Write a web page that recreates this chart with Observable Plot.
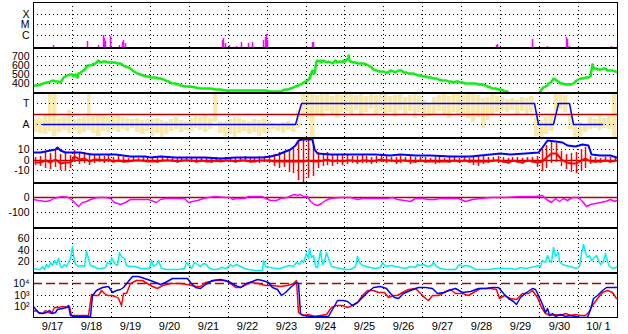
<!DOCTYPE html>
<html><head><meta charset="utf-8">
<script src="https://cdn.jsdelivr.net/npm/d3@7"></script>
<script src="https://cdn.jsdelivr.net/npm/@observablehq/plot@0.6"></script>
<style>body{margin:0;background:#fff} #chart svg{display:block}</style>
</head><body><div id="chart"></div><script>
// x values: days since 9/17 00:00
const tickLabels = ["9/17","9/18","9/19","9/20","9/21","9/22","9/23","9/24","9/25","9/26","9/27","9/28","9/29","9/30","10/ 1"];

// Panel 1: flare class (C=1, M=2, X=3)
const flareLevels = ["C","M","X"];
const flares = [[0.51,0.05],[1.39,0.43],[1.67,0.05],[1.79,1.0],[1.82,0.7],[1.86,0.4],[1.98,0.9],[2.21,0.05],[2.29,0.35],[2.32,0.5],[2.36,0.25],[4.85,0.5],[4.87,0.7],[4.93,0.2],[5.03,0.05],[5.21,0.0],[5.34,0.35],[5.52,0.25],[5.63,0.35],[5.91,0.5],[5.96,0.8],[5.99,1.1],[6.01,0.55],[7.17,0.35],[7.19,0.35],[11.89,0.05],[11.92,0.1],[12.82,0.6],[13.20,0.0],[13.69,0.8],[13.71,0.6],[13.77,0.0],[14.85,0.0]];

// Panel 2: speed
const speed = [[0,378],[0.1,382],[0.18,388],[0.25,395],[0.31,407],[0.38,415],[0.44,422],[0.5,430],[0.57,426],[0.63,420],[0.69,415],[0.74,440],[0.77,463],[0.82,478],[0.87,489],[0.93,495],[1.0,500],[1.04,480],[1.08,505],[1.12,470],[1.16,507],[1.22,520],[1.28,544],[1.33,570],[1.39,600],[1.46,605],[1.52,611],[1.58,625],[1.64,640],[1.68,655],[1.72,632],[1.80,644],[1.86,650],[1.92,635],[1.98,637],[2.05,628],[2.11,630],[2.17,620],[2.23,618],[2.30,605],[2.36,592],[2.43,578],[2.49,563],[2.55,545],[2.62,526],[2.68,512],[2.75,500],[2.82,490],[2.88,481],[2.95,475],[3.01,470],[3.07,466],[3.13,463],[3.2,458],[3.26,452],[3.33,442],[3.39,433],[3.46,424],[3.52,415],[3.58,405],[3.65,396],[3.72,386],[3.78,378],[3.9,372],[4.03,367],[4.16,356],[4.29,348],[4.42,345],[4.55,341],[4.68,335],[4.80,330],[4.93,326],[5.06,322],[5.19,322],[5.32,322],[5.45,320],[5.57,319],[5.70,319],[5.83,319],[5.96,317],[6.09,315],[6.22,315],[6.34,315],[6.40,322],[6.47,330],[6.53,338],[6.60,348],[6.67,358],[6.73,367],[6.80,378],[6.86,389],[6.90,400],[6.94,415],[7.0,425],[7.04,433],[7.08,460],[7.12,489],[7.15,520],[7.17,544],[7.2,510],[7.22,507],[7.25,580],[7.27,644],[7.3,660],[7.34,640],[7.37,655],[7.41,635],[7.45,660],[7.5,648],[7.54,630],[7.58,650],[7.63,637],[7.67,625],[7.72,648],[7.76,655],[7.8,630],[7.85,650],[7.89,644],[7.93,630],[7.96,655],[8.01,640],[8.05,665],[8.09,674],[8.1,711],[8.12,660],[8.15,640],[8.22,637],[8.28,632],[8.35,626],[8.42,622],[8.48,618],[8.55,610],[8.61,600],[8.67,575],[8.73,555],[8.8,545],[8.86,537],[8.92,535],[8.99,533],[9.05,520],[9.12,526],[9.18,540],[9.25,537],[9.3,520],[9.38,544],[9.44,540],[9.50,526],[9.57,520],[9.63,515],[9.70,510],[9.76,507],[9.82,500],[9.89,493],[9.95,486],[10.02,478],[10.08,475],[10.15,470],[10.21,465],[10.27,459],[10.34,452],[10.40,444],[10.47,438],[10.53,433],[10.6,428],[10.66,422],[10.72,418],[10.79,415],[10.86,422],[10.92,420],[10.97,415],[11.03,410],[11.10,404],[11.16,400],[11.22,396],[11.29,398],[11.35,396],[11.42,392],[11.48,389],[11.54,384],[11.61,378],[11.67,365],[11.74,352],[11.8,346],[11.87,341],[11.94,335],[12.0,330],[12.06,322],[12.12,315],[12.18,312],[12.6,NaN],[13.02,315],[13.06,335],[13.10,352],[13.15,365],[13.20,378],[13.24,398],[13.28,415],[13.32,435],[13.36,452],[13.40,445],[13.43,433],[13.48,418],[13.54,404],[13.6,395],[13.67,385],[13.73,388],[13.79,385],[13.83,390],[13.87,396],[13.91,420],[13.95,433],[14.0,445],[14.05,452],[14.12,460],[14.18,463],[14.25,470],[14.31,478],[14.34,540],[14.36,607],[14.38,580],[14.41,563],[14.45,570],[14.49,558],[14.53,555],[14.56,552],[14.6,560],[14.64,565],[14.69,563],[14.75,550],[14.82,544],[14.88,540],[14.94,532],[15.0,526]];

// Panel 3: T/A (A=1, T=3), 3-hour bins of the yellow trace
const taLevels = ["A","T"];
const yellowLo = [0.2,0.1,0.0,0.3,-0.1,0.2,0.4,0.1, 0.3,0.0,0.2,0.4,0.1,-0.1,0.3,0.2, 0.4,0.2,0.5,0.3,0.6,0.2,0.0,0.3, -0.1,0.1,-0.2,0.0,0.3,0.5,0.2,0.4, 0.3,0.6,0.4,0.2,0.5,1.2,0.1,-0.1, 0.0,-0.2,0.1,0.3,0.0,0.2,-0.1,0.1, 0.2,0.5,0.3,0.1,0.4,0.2,0.6,1.8, 1.5,-0.2,2.0,1.7,2.2,2.0,1.6,2.1, 2.2,2.0,2.3,1.8,2.1,2.4,1.9,2.2, 1.9,2.1,1.7,2.3,2.0,2.2,1.6,2.1, 1.6,1.8,2.0,2.2,1.9,1.6,2.1,2.0, 2.0,1.6,1.2,1.7,0.6,1.4,1.9,2.1, 2.2,2.1,2.3,2.0,2.2,1.9,2.1,-0.1, -0.2,0.0,0.3,2.2,2.4,2.1,0.5,-0.2, -0.1,0.2,0.5,0.6,0.4,0.6,0.5,-0.2];
const yellowHi = [1.5,1.6,2.0,4.0,4.0,1.6,1.7,2.3, 1.5,1.6,1.7,4.0,1.8,2.0,1.9,1.7, 1.8,1.9,1.7,1.6,1.5,1.6,1.4,1.5, 1.5,1.6,1.4,1.3,1.5,1.7,1.4,1.3, 1.6,1.8,1.7,1.9,1.6,4.0,1.3,1.2, 1.5,1.7,1.6,1.4,1.3,1.5,1.4,1.6, 1.2,1.1,1.0,1.2,1.3,1.1,2.3,3.9, 3.9,4.0,3.8,3.9,4.0,3.7,3.9,3.8, 4.0,3.9,3.8,4.0,3.7,3.9,3.8,4.0, 3.9,3.7,3.8,4.0,3.6,3.8,3.9,3.7, 3.3,3.0,3.6,3.8,3.9,3.7,4.0,3.9, 3.8,3.9,4.0,3.8,3.5,3.6,3.9,3.7, 3.6,3.4,3.5,3.3,3.6,3.5,3.7,1.6, 1.4,1.7,1.8,3.9,4.0,3.8,2.0,1.1, 1.2,1.0,1.7,1.5,1.9,1.6,1.8,4.0];
const taStep = [[0.23,1],[6.73,1],[6.88,3],[12.88,3],[12.96,1],[13.35,1],[13.48,3],[13.77,3],[13.88,1],[14.62,1]];

// Panel 4: Bt (blue) and Bz 3-hour ranges (red)
const bt = [[0,7],[0.18,7],[0.31,8.5],[0.44,9],[0.57,10.5],[0.62,12],[0.69,9],[0.82,7.5],[1.0,7],[1.21,7],[1.34,6],[1.52,5.5],[1.72,5],[2.11,5],[2.49,3.5],[2.88,3.3],[3.01,2.6],[3.26,3],[3.65,2.2],[4.03,2],[4.42,2.5],[4.80,1.8],[5.19,2.2],[5.57,2.3],[5.88,2],[6.09,3.5],[6.29,5.5],[6.47,8],[6.60,10.7],[6.73,14],[6.81,18.6],[6.91,20],[7.06,20.5],[7.17,20],[7.22,10],[7.30,6.5],[7.63,5.5],[8.01,5.2],[8.40,5],[8.79,5.3],[9.17,4.5],[9.43,5.5],[9.81,4.2],[10.20,4],[10.71,3.5],[11.23,3],[11.74,5.5],[12.0,6],[12.25,5],[12.64,6],[12.97,7],[13.07,12],[13.20,18.6],[13.41,18],[13.59,17],[13.72,14],[13.92,13.5],[14.10,15],[14.26,14.5],[14.33,5.5],[14.56,4],[14.82,4],[14.98,2.5]];
const bzLo = [-5,-6,-8,-9,-7,-10,-11,-8, -2,-4,-3,-5,-3,-2,-3,-2, -3,-2,-3,-2,-2,-1,-2,-2, -2,-3,-2,-1,-2,-3,-2,-1, -2,-3,-2,-2,-3,-2,-2,-1, -2,-3,-2,-2,-3,-2,-3,-2, -3,-6,-8,-7,-12,-13,-20,-22, -18,-16,-8,-6,-5,-6,-4,-5, -4,-3,-4,-3,-3,-4,-3,-2, -3,-2,-4,-3,-2,-4,-3,-2, -3,-2,-4,-3,-2,-3,-2,-3, -2,-3,-5,-6,-4,-3,-2,-3, -3,-4,-2,-3,-4,-2,-3,-7, -11,-8,-3,-2,-6,-9,-12,-13, -10,-8,-4,-3,-3,-2,-3,-2];
const bzHi = [2,3,8,6,9,5,7,4, 9,6,7,4,5,4,3,4, 2,3,2,1,2,1,2,1, 1,2,2,1,2,1,2,2, 2,1,2,1,2,2,1,2, 2,1,2,3,2,1,3,2, 4,5,7,6,10,11,18,20, 19,14,7,6,7,4,5,4, 4,3,3,4,3,2,3,4, 3,2,2,3,2,3,2,2, 2,1,2,2,1,2,2,1, 2,1,3,4,3,2,2,3, 2,1,2,2,1,2,2,3, 10,14,17,16,8,5,6,7, 10,12,3,2,1,2,2,2];

// Panel 5: Dst
const dst = [[0,-15],[0.13,-22],[0.31,-25],[0.44,-18],[0.51,-9],[0.62,-2],[0.74,5],[0.90,-2],[1.0,-20],[1.08,-42],[1.16,-60],[1.26,-35],[1.36,-28],[1.46,-15],[1.64,-2],[1.85,-2],[1.98,-9],[2.08,-31],[2.23,-47],[2.36,-35],[2.49,-15],[2.75,-13],[2.95,-11],[3.08,-27],[3.16,-31],[3.26,-15],[3.39,-6],[3.65,-4],[3.78,-4],[3.88,-9],[3.98,-31],[4.08,-28],[4.21,-18],[4.37,-9],[4.50,2],[4.68,5],[4.93,3],[5.06,2],[5.11,-15],[5.21,-6],[5.42,-5],[5.52,5],[5.70,7],[5.88,7],[5.96,-9],[6.09,-20],[6.24,-18],[6.34,-9],[6.52,2],[6.63,12],[6.70,20],[6.78,12],[6.86,22],[6.94,10],[7.04,5],[7.12,-25],[7.22,-45],[7.30,-53],[7.40,-40],[7.50,-20],[7.63,-5],[7.89,-2],[8.14,0],[8.32,-15],[8.45,-8],[8.71,-4],[8.97,-9],[9.09,-9],[9.22,0],[9.35,-15],[9.53,-18],[9.68,-25],[9.81,-5],[9.99,-4],[10.15,-15],[10.30,-12],[10.45,-4],[10.71,-6],[10.92,-9],[11.10,-25],[11.28,-12],[11.48,-8],[11.74,0],[12.12,3],[12.51,8],[12.90,9],[13.07,13],[13.18,-15],[13.30,-31],[13.41,-5],[13.51,-25],[13.62,-9],[13.72,-20],[13.85,-2],[14.00,0],[14.10,-25],[14.20,-60],[14.31,-47],[14.43,-40],[14.56,-31],[14.69,-25],[14.82,-15],[14.92,-25],[14.98,-22]];

// Panel 6: cyan index
const cyanSeries = [[0,8],[0.10,6],[0.18,6],[0.23,10],[0.28,5],[0.33,14],[0.39,9],[0.44,18],[0.49,12],[0.54,21],[0.59,15],[0.64,24],[0.69,10],[0.74,9],[0.80,14],[0.85,10],[0.90,18],[0.95,25],[0.99,46],[1.03,30],[1.08,15],[1.16,11],[1.23,13],[1.31,10],[1.36,38],[1.41,25],[1.46,13],[1.54,10],[1.64,8],[1.75,7],[1.85,9],[1.90,18],[1.98,15],[2.00,26],[2.05,20],[2.11,15],[2.16,13],[2.21,36],[2.26,28],[2.34,24],[2.39,12],[2.49,10],[2.62,11],[2.75,8],[2.88,7],[2.98,8],[3.03,21],[3.08,11],[3.16,15],[3.21,21],[3.29,8],[3.42,6],[3.57,5],[3.72,5],[3.88,7],[3.93,18],[4.01,12],[4.06,7],[4.14,18],[4.21,14],[4.29,11],[4.37,16],[4.44,15],[4.50,9],[4.60,5],[4.73,5],[4.83,9],[4.96,8],[5.06,15],[5.11,10],[5.21,14],[5.32,11],[5.42,8],[5.52,5],[5.70,4],[5.88,4],[5.91,21],[5.96,10],[6.09,9],[6.22,7],[6.34,7],[6.47,11],[6.58,13],[6.68,10],[6.76,17],[6.83,15],[6.88,21],[6.94,18],[7.01,33],[7.06,25],[7.09,42],[7.14,26],[7.19,30],[7.25,10],[7.30,9],[7.37,39],[7.42,15],[7.48,20],[7.53,36],[7.58,25],[7.65,11],[7.76,9],[7.89,7],[8.01,5],[8.14,5],[8.27,10],[8.32,28],[8.37,18],[8.45,13],[8.55,11],[8.66,9],[8.79,8],[8.91,9],[8.97,18],[9.04,11],[9.17,12],[9.30,10],[9.43,9],[9.56,8],[9.68,10],[9.81,9],[9.86,15],[9.94,12],[10.02,14],[10.12,11],[10.22,13],[10.27,18],[10.35,10],[10.45,7],[10.58,5],[10.71,5],[10.84,5],[10.94,15],[11.02,11],[11.12,12],[11.23,10],[11.35,6],[11.48,5],[11.61,5],[11.74,6],[11.87,8],[12.0,7],[12.12,7],[12.25,8],[12.38,6],[12.51,9],[12.64,8],[12.77,9],[12.90,10],[12.95,13],[13.02,11],[13.07,21],[13.15,18],[13.20,30],[13.25,22],[13.30,18],[13.36,45],[13.41,28],[13.48,36],[13.51,20],[13.59,15],[13.67,13],[13.77,11],[13.87,9],[13.95,8],[14.03,10],[14.08,34],[14.13,50],[14.18,35],[14.23,27],[14.28,30],[14.33,21],[14.38,25],[14.46,30],[14.51,22],[14.56,15],[14.64,20],[14.69,34],[14.74,20],[14.80,11],[14.87,8],[14.95,9],[15.0,10]];

// Panel 7: log flux, blue and red
const fluxBlue = [[0,95],[0.08,40],[0.13,30],[0.23,21],[0.33,30],[0.41,42],[0.49,25],[0.57,30],[0.62,56],[0.74,68],[0.85,80],[0.90,120],[0.95,15],[1.08,12],[1.34,12],[1.46,13],[1.52,900],[1.62,2500],[1.77,5000],[1.93,5200],[2.03,1800],[2.13,2500],[2.23,3000],[2.31,5000],[2.41,14000],[2.54,44000],[2.70,40000],[2.85,27500],[3.01,19500],[3.13,14000],[3.26,8500],[3.39,14000],[3.57,27500],[3.83,32000],[3.96,27500],[4.03,14000],[4.16,4400],[4.29,3500],[4.42,8500],[4.60,19500],[4.80,23000],[5.01,16000],[5.19,7000],[5.32,5000],[5.47,10000],[5.63,16000],[5.75,23000],[5.88,19500],[6.04,12000],[6.14,5000],[6.27,2900],[6.37,900],[6.47,1800],[6.60,5000],[6.76,12000],[6.81,11000],[6.86,21],[6.94,15],[7.12,12],[7.37,12],[7.58,13],[7.68,56],[7.81,320],[7.96,320],[8.07,260],[8.19,120],[8.32,210],[8.45,600],[8.58,1780],[8.73,4400],[8.91,5800],[9.07,3500],[9.17,1260],[9.27,600],[9.38,460],[9.50,1260],[9.68,2500],[9.89,4400],[10.07,5000],[10.25,3500],[10.38,1260],[10.53,1800],[10.66,2500],[10.84,3500],[11.02,1800],[11.23,2000],[11.43,3500],[11.61,4000],[11.79,5000],[11.94,4400],[12.07,1260],[12.20,450],[12.33,250],[12.41,150],[12.51,600],[12.66,1800],[12.82,3500],[12.90,3000],[12.97,900],[13.07,150],[13.15,30],[13.20,60],[13.25,15],[13.33,25],[13.41,12],[13.54,18],[13.67,12],[13.79,15],[13.92,12],[14.05,10.5],[14.23,10.5],[14.31,50],[14.38,450],[14.49,1000],[14.62,2500],[14.72,4400],[14.82,4600],[14.92,4400],[15.0,4200]];
const fluxRed = [[0,35],[0.08,42],[0.15,21],[0.23,25],[0.31,42],[0.39,30],[0.46,21],[0.54,83],[0.64,80],[0.74,90],[0.85,85],[0.92,100],[0.98,15],[1.21,15],[1.41,16],[1.49,1200],[1.59,1000],[1.67,900],[1.75,2500],[1.82,1500],[1.90,900],[2.00,1000],[2.11,800],[2.18,450],[2.26,120],[2.31,1300],[2.39,1260],[2.49,10000],[2.65,19500],[2.80,19500],[2.93,10000],[3.06,5800],[3.19,3500],[3.31,7000],[3.52,10000],[3.78,10000],[3.96,8500],[4.16,5800],[4.29,5800],[4.42,14000],[4.68,19500],[4.93,19500],[5.06,10000],[5.19,4400],[5.32,4400],[5.42,7100],[5.57,14000],[5.78,10000],[5.96,7100],[6.14,7100],[6.34,5800],[6.52,7100],[6.68,10000],[6.76,19500],[6.81,30],[6.91,15],[7.06,18],[7.22,13],[7.37,15],[7.53,17],[7.65,83],[7.78,117],[7.94,120],[8.07,83],[8.19,117],[8.32,214],[8.45,912],[8.58,2500],[8.73,2500],[8.86,1800],[9.02,1800],[9.12,600],[9.25,900],[9.35,1000],[9.48,1780],[9.63,2900],[9.81,3500],[9.94,1260],[10.07,460],[10.15,350],[10.25,900],[10.40,950],[10.56,1800],[10.71,3000],[10.84,1260],[11.02,1260],[11.17,900],[11.30,1780],[11.48,3500],[11.74,3500],[11.89,3300],[11.97,460],[12.10,900],[12.25,460],[12.41,420],[12.56,1260],[12.71,1260],[12.82,2500],[12.95,600],[13.05,83],[13.15,21],[13.28,15],[13.41,20],[13.54,15],[13.67,25],[13.79,15],[13.92,18],[14.05,15],[14.18,15],[14.26,30],[14.36,117],[14.49,457],[14.62,1800],[14.75,2500],[14.87,1800],[14.98,500]];

// ---------- drawing ----------
const FONT = "'Liberation Sans', Arial, Helvetica, sans-serif";
const dayLines = d3.range(1, 15);
const DOT = "1,3";
const DARKRED = "#b40000";
const root = document.getElementById("chart");

function panel({height, marginTop = 0, marginBottom = 0, y, yTicks, yFormat, grid = [], under = [], marks = [], xAxis = false, sepTop = true}) {
  const m = [...under];
  m.push(Plot.ruleX(dayLines, {stroke: "black", strokeDasharray: DOT}));
  if (grid.length) m.push(Plot.ruleY(grid, {stroke: "black", strokeDasharray: DOT}));
  m.push(...marks);
  m.push(Plot.axisY({ticks: yTicks, tickFormat: yFormat, tickSize: 0, tickPadding: 4, fontSize: 10.5, label: null}));
  if (xAxis) m.push(Plot.axisX({ticks: d3.range(15).map(i => i + 0.5), tickFormat: d => tickLabels[Math.floor(d)], tickSize: 0, tickPadding: 5, fontSize: 11, label: null}));
  m.push(Plot.frame({stroke: "black", strokeWidth: 1}));
  if (sepTop) m.push(Plot.ruleY([y.domain[1]], {stroke: "black", dy: 1}));
  const svg = Plot.plot({
    width: 628, height, marginLeft: 33, marginRight: 11, marginTop, marginBottom,
    x: {domain: [0, 15], axis: null, round: true},
    y: {...y, axis: null, round: true},
    style: {fontFamily: FONT, fontSize: "10.5px", background: "white", color: "black"},
    marks: m
  });
  root.appendChild(svg);
}

// 1 flares
panel({
  height: 47, marginTop: 2, sepTop: false,
  y: {domain: [-0.14, 4.14]},
  yTicks: [1, 2, 3], yFormat: d => flareLevels[d - 1], grid: [1, 2, 3],
  marks: [Plot.ruleX(flares, {x: d => d[0], y1: -0.14, y2: d => d[1], stroke: "#ff00ff", strokeWidth: 1.5})]
});
// 2 speed
panel({
  height: 45,
  y: {domain: [300, 800]},
  yTicks: [400, 500, 600, 700], yFormat: d => String(d), grid: [400, 500, 600, 700],
  marks: [Plot.line(speed, {x: d => d[0], y: d => d[1], stroke: "#11ee11", strokeWidth: 2.5, clip: true})]
});
// 3 T/A
const yellowBins = yellowLo.map((lo, i) => ({x1: i * 0.125, x2: (i + 1) * 0.125, lo, hi: yellowHi[i]}));
panel({
  height: 45,
  y: {domain: [-0.24, 4.05]},
  yTicks: [1, 3], yFormat: d => d === 1 ? taLevels[0] : taLevels[1], grid: [1, 3],
  under: [Plot.rect(yellowBins, {x1: "x1", x2: "x2", y1: "lo", y2: "hi", fill: "#f8e59c", fillOpacity: 0.85, insetRight: 0.5, clip: true})],
  marks: [
    Plot.ruleY([2], {stroke: DARKRED, strokeWidth: 1.5}),
    Plot.line(taStep, {x: d => d[0], y: d => d[1], stroke: "#0000ff", strokeWidth: 1.5})
  ]
});
// 4 Bz / Bt
const bzBins = bzLo.map((lo, i) => ({x: i * 0.125 + 0.0625, lo, hi: bzHi[i], mid: (lo + bzHi[i]) / 2 - 0.5}));
panel({
  height: 45,
  y: {domain: [-22, 22]},
  yTicks: [10, 0, -10], yFormat: d => String(d), grid: [10, -10],
  marks: [
    Plot.ruleY([0], {stroke: DARKRED, strokeWidth: 1.5}),
    Plot.ruleX(bzBins, {x: "x", y1: "lo", y2: "hi", stroke: "#ff0000", strokeWidth: 1.5, clip: true}),
    Plot.line(bzBins, {x: "x", y: "mid", stroke: "#ff0000", strokeWidth: 2, clip: true}),
    Plot.line(bt, {x: d => d[0], y: d => d[1], stroke: "#0000ff", strokeWidth: 2, clip: true})
  ]
});
// 5 Dst
panel({
  height: 45,
  y: {domain: [-200, 100]},
  yTicks: [0, -100], yFormat: d => String(d), grid: [-100],
  marks: [
    Plot.ruleY([0], {stroke: DARKRED, strokeWidth: 1.5}),
    Plot.line(dst, {x: d => d[0], y: d => d[1], stroke: "#ff00ff", strokeWidth: 1.5})
  ]
});
// 6 cyan
panel({
  height: 45,
  y: {domain: [0, 80]},
  yTicks: [20, 40, 60], yFormat: d => String(d), grid: [20, 40, 60],
  marks: [Plot.line(cyanSeries, {x: d => d[0], y: d => d[1], stroke: "#00f0f0", strokeWidth: 1.5})]
});
// 7 log flux
const sup = {100: "10²", 1000: "10³", 10000: "10⁴"};
panel({
  height: 62, marginBottom: 17, xAxis: true,
  y: {type: "log", domain: [10, 1e5]},
  yTicks: [100, 1000, 10000], yFormat: d => sup[d], grid: [100, 1000],
  marks: [
    Plot.ruleY([1e4], {stroke: DARKRED, strokeWidth: 1.5, strokeDasharray: "9,4"}),
    Plot.line(fluxRed, {x: d => d[0], y: d => d[1], stroke: "#ff0000", strokeWidth: 1.5, clip: true}),
    Plot.line(fluxBlue, {x: d => d[0], y: d => d[1], stroke: "#0000ff", strokeWidth: 1.5, clip: true})
  ]
});
</script></body></html>
